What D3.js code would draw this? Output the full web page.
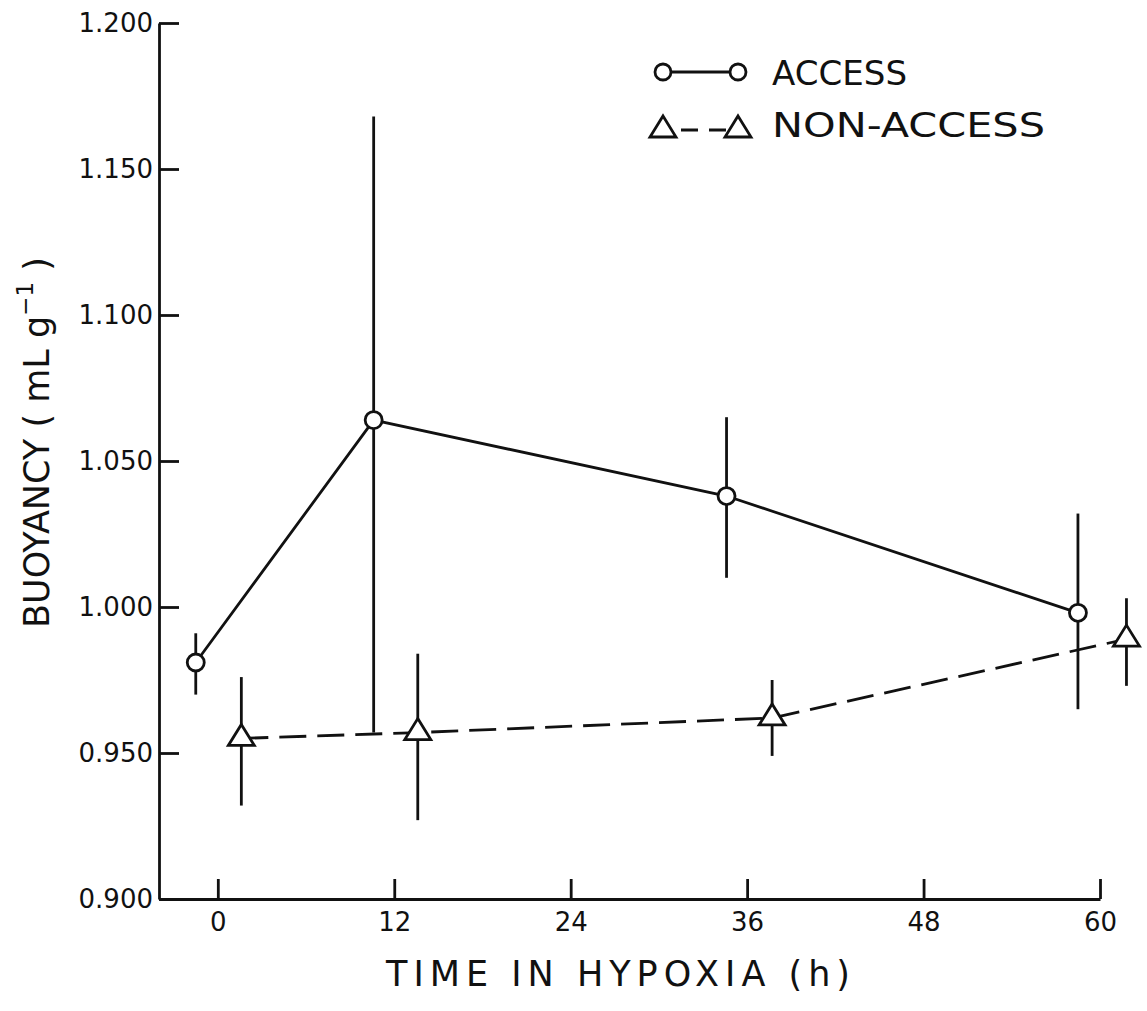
<!DOCTYPE html>
<html>
<head>
<meta charset="utf-8">
<script src="https://cdn.jsdelivr.net/npm/d3@7"></script>
<style>
  html, body { margin: 0; padding: 0; background: #fff; }
  svg { display: block; }
  text { font-family: "DejaVu Sans", "Liberation Sans", Arial, sans-serif; fill: #111; }
</style>
</head>
<body>
<svg id="chart" width="1147" height="1011"></svg>
<script>
// ---- data ----
const seriesNames = ["ACCESS", "NON-ACCESS"];

const accessTime = [-1.5, 10.6, 34.6, 58.5];
const accessMean = [0.981, 1.064, 1.038, 0.998];
const accessHi   = [0.991, 1.168, 1.065, 1.032];
const accessLo   = [0.970, 0.957, 1.010, 0.965];

const nonAccessTime = [1.6, 13.6, 37.7, 61.8];
const nonAccessMean = [0.955, 0.957, 0.962, 0.989];
const nonAccessHi   = [0.976, 0.984, 0.975, 1.003];
const nonAccessLo   = [0.932, 0.927, 0.949, 0.973];

const xTicks = [0, 12, 24, 36, 48, 60];
const yTicks = [0.90, 0.95, 1.00, 1.05, 1.10, 1.15, 1.20];

const xTitle = "TIME IN HYPOXIA (h)";

// ---- layout ----
const svg = d3.select("#chart");
const x = d3.scaleLinear().domain([-4, 60]).range([159, 1100]);
const y = d3.scaleLinear().domain([0.9, 1.2]).range([899, 23]);
const ink = "#111";
const sw = 2.8;
const fontFam = '"DejaVu Sans", "Liberation Sans", Arial, sans-serif';

// axes
const yAxis = d3.axisLeft(y).tickValues(yTicks).tickSizeInner(-20).tickSizeOuter(0)
  .tickPadding(6).tickFormat(d3.format(".3f"));
const xAxis = d3.axisBottom(x).tickValues(xTicks).tickSizeInner(-20).tickSizeOuter(0)
  .tickPadding(14).tickFormat(d3.format("d"));

const gy = svg.append("g").attr("transform", `translate(${x.range()[0]},0)`).call(yAxis);
const gx = svg.append("g").attr("transform", `translate(0,${y.range()[0]})`).call(xAxis);
[gx, gy].forEach(g => {
  g.selectAll("path.domain").attr("stroke", ink).attr("stroke-width", sw);
  g.selectAll(".tick line").attr("stroke", ink).attr("stroke-width", sw);
  g.selectAll(".tick text").attr("fill", ink).style("font-size", "26px")
    .style("font-family", fontFam);
});

// series records
const accessData = accessTime.map((t, i) => ({t, m: accessMean[i], hi: accessHi[i], lo: accessLo[i]}));
const nonData = nonAccessTime.map((t, i) => ({t, m: nonAccessMean[i], hi: nonAccessHi[i], lo: nonAccessLo[i]}));

const line = d3.line().x(d => x(d.t)).y(d => y(d.m));

// lines
svg.append("path").datum(accessData).attr("d", line)
  .attr("fill", "none").attr("stroke", ink).attr("stroke-width", sw);
svg.append("path").datum(nonData).attr("d", line)
  .attr("fill", "none").attr("stroke", ink).attr("stroke-width", sw)
  .attr("stroke-dasharray", "27,11");

// error bars
function errBars(data) {
  svg.append("g").selectAll("line").data(data).join("line")
    .attr("x1", d => x(d.t)).attr("x2", d => x(d.t))
    .attr("y1", d => y(d.hi)).attr("y2", d => y(d.lo))
    .attr("stroke", ink).attr("stroke-width", sw);
}
errBars(accessData);
errBars(nonData);

// markers
const triPath = "M0,-14 L13,7 L-13,7 Z";
const circR = 8.5;
function circleMarks(data) {
  svg.append("g").selectAll("circle").data(data).join("circle")
    .attr("cx", d => x(d.t)).attr("cy", d => y(d.m)).attr("r", circR)
    .attr("fill", "#fff").attr("stroke", ink).attr("stroke-width", sw);
}
function triMarks(data) {
  svg.append("g").selectAll("path").data(data).join("path")
    .attr("d", triPath)
    .attr("transform", d => `translate(${x(d.t)},${y(d.m)})`)
    .attr("fill", "#fff").attr("stroke", ink).attr("stroke-width", sw);
}
circleMarks(accessData);
triMarks(nonData);

// legend
const lg = svg.append("g");
const lx1 = 663, lx2 = 738, textX = 772;
// row 1: ACCESS
lg.append("line").attr("x1", lx1).attr("x2", lx2).attr("y1", 72).attr("y2", 72)
  .attr("stroke", ink).attr("stroke-width", sw);
[lx1, lx2].forEach(cx => lg.append("circle").attr("cx", cx).attr("cy", 72).attr("r", 8)
  .attr("fill", "#fff").attr("stroke", ink).attr("stroke-width", sw));
lg.append("text").attr("x", textX).attr("y", 85).text(seriesNames[0])
  .style("font-size", "33px").attr("textLength", 135).attr("lengthAdjust", "spacingAndGlyphs");
// row 2: NON-ACCESS
lg.append("line").attr("x1", lx1 + 18).attr("x2", lx2 - 12).attr("y1", 130).attr("y2", 130)
  .attr("stroke", ink).attr("stroke-width", sw).attr("stroke-dasharray", "17,11");
[lx1, lx2].forEach(cx => lg.append("path").attr("d", triPath)
  .attr("transform", `translate(${cx},130)`)
  .attr("fill", "#fff").attr("stroke", ink).attr("stroke-width", sw));
lg.append("text").attr("x", textX).attr("y", 137).text(seriesNames[1])
  .style("font-size", "33px").attr("textLength", 273).attr("lengthAdjust", "spacingAndGlyphs");

// axis titles
svg.append("text").attr("x", 386).attr("y", 986).text(xTitle)
  .style("font-size", "35px").attr("textLength", 464).attr("lengthAdjust", "spacing");

const yt = svg.append("text")
  .attr("transform", "translate(49,628) rotate(-90)")
  .style("font-size", "35px");
yt.append("tspan").text("BUOYANCY ( mL g");
yt.append("tspan").text("−1").style("font-size", "23px").attr("dy", -16);
yt.append("tspan").text(" )").attr("dy", 16);
</script>
</body>
</html>
